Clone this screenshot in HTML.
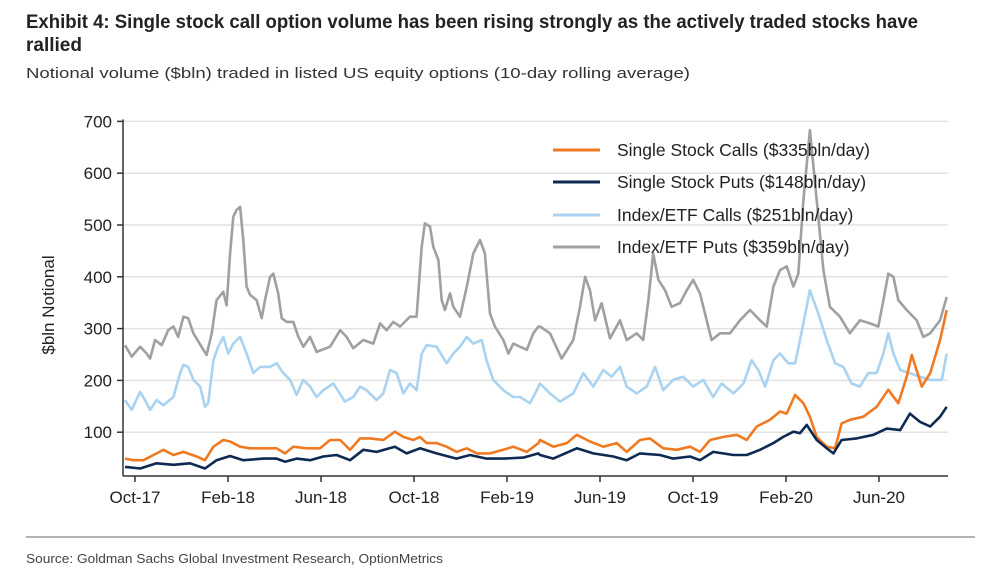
<!DOCTYPE html>
<html><head><meta charset="utf-8">
<style>
html,body{margin:0;padding:0;background:#fff;}
svg{display:block;}
text{font-family:"Liberation Sans",Arial,sans-serif;}
.n{font-family:"Liberation Sans Narrow","Liberation Sans",sans-serif;}
</style></head>
<body>
<svg id="chart" width="1000" height="585" viewBox="0 0 1000 585" xmlns="http://www.w3.org/2000/svg">
<text class="n" x="26" y="28" font-size="19" font-weight="bold" fill="#222" textLength="892" lengthAdjust="spacingAndGlyphs">Exhibit 4: Single stock call option volume has been rising strongly as the actively traded stocks have</text>
<text class="n" x="26" y="51" font-size="19" font-weight="bold" fill="#222" textLength="56" lengthAdjust="spacingAndGlyphs">rallied</text>
<text class="n" x="26" y="78" font-size="15" fill="#333" textLength="664" lengthAdjust="spacingAndGlyphs">Notional volume ($bln) traded in listed US equity options (10-day rolling average)</text>
<g id="grid"></g>
<g id="yticks"></g>
<g id="xticks"></g>
<g id="series"></g>
<text transform="translate(54,305) rotate(-90)" text-anchor="middle" font-size="17" fill="#222">$bln Notional</text>
<g id="legend"></g>
<line x1="26" y1="537" x2="975" y2="537" stroke="#999" stroke-width="1.5"/>
<text class="n" x="26" y="563" font-size="13" fill="#444" textLength="417" lengthAdjust="spacingAndGlyphs">Source: Goldman Sachs Global Investment Research, OptionMetrics</text>
</svg>
<script>
// months since 1-Oct-2017
const yTicks=[100,200,300,400,500,600,700];
const xTickLabels=["Oct-17","Feb-18","Jun-18","Oct-18","Feb-19","Jun-19","Oct-19","Feb-20","Jun-20"];
const xTickMonths=[0,4,8,12,16,20,24,28,32];
const legendLabels=["Single Stock Calls ($335bln/day)","Single Stock Puts ($148bln/day)","Index/ETF Calls ($251bln/day)","Index/ETF Puts ($359bln/day)"];
const putsIdxT=[-0.43,-0.14,0.22,0.5,0.65,0.86,1.15,1.43,1.65,1.86,2.08,2.29,2.51,2.94,3.08,3.3,3.51,3.8,3.94,4.09,4.23,4.37,4.52,4.66,4.8,4.95,5.23,5.45,5.59,5.81,5.95,6.16,6.31,6.52,6.81,7.03,7.24,7.53,7.81,8.39,8.82,9.1,9.39,9.82,10.25,10.54,10.82,11.11,11.4,11.83,12.11,12.33,12.47,12.69,12.83,13.05,13.19,13.33,13.55,13.69,13.98,14.27,14.55,14.84,15.05,15.27,15.48,15.84,16.06,16.27,16.56,16.85,17.13,17.35,17.42,17.85,18.35,18.85,19.14,19.36,19.57,19.79,20.07,20.43,20.86,21.15,21.58,21.86,22.08,22.29,22.51,22.8,23.08,23.44,23.73,24.01,24.3,24.59,24.8,25.16,25.59,26.02,26.45,26.88,27.17,27.46,27.74,28.03,28.32,28.53,28.75,29.03,29.32,29.61,29.89,30.32,30.75,31.18,31.61,31.97,32.19,32.4,32.62,32.83,33.19,33.62,33.91,34.2,34.63,34.91];
const putsIdxV=[268,246,265,252,242,278,268,297,304,284,323,320,291,259,249,291,355,371,345,445,516,529,535,471,381,365,355,320,355,400,406,368,320,313,313,284,265,284,255,265,297,284,262,278,271,310,297,313,304,323,323,458,503,497,458,432,355,336,368,342,323,381,445,471,445,329,304,278,252,271,265,259,291,304,304,291,242,278,342,400,374,316,349,281,316,278,291,278,355,445,394,374,342,349,374,394,368,316,278,291,291,316,336,316,304,381,413,420,381,406,548,683,548,413,342,323,291,316,310,304,355,406,400,355,336,316,284,291,316,361];
const callsIdxT=[-0.43,-0.14,0.22,0.43,0.65,0.93,1.22,1.65,1.94,2.08,2.29,2.51,2.8,3.01,3.15,3.37,3.58,3.8,4.01,4.23,4.52,4.8,5.09,5.38,5.81,6.09,6.38,6.67,6.95,7.24,7.53,7.81,8.1,8.53,9.03,9.39,9.68,9.96,10.39,10.68,10.97,11.25,11.54,11.83,12.11,12.33,12.54,12.97,13.4,13.69,13.98,14.27,14.55,14.91,15.12,15.41,15.84,16.27,16.56,16.99,17.28,17.42,17.85,18.28,18.85,19.28,19.71,20.14,20.5,20.86,21.15,21.58,22.01,22.37,22.72,23.15,23.58,24.01,24.44,24.87,25.23,25.74,26.17,26.52,26.81,27.1,27.46,27.74,28.1,28.39,28.6,29.03,29.39,29.75,30.11,30.47,30.82,31.18,31.54,31.9,32.19,32.4,32.62,32.91,33.33,33.76,34.2,34.7,34.91];
const callsIdxV=[162,143,178,162,143,162,152,168,214,230,226,201,188,149,156,239,265,284,252,271,284,252,214,226,226,233,214,201,172,201,188,168,181,194,159,168,188,181,162,175,220,214,175,194,181,252,268,265,233,252,265,284,271,278,239,201,181,168,168,156,181,194,175,159,175,214,188,220,207,226,188,175,188,226,181,201,207,188,201,168,194,175,194,239,220,188,239,252,233,233,278,374,329,278,233,226,194,188,214,214,252,291,252,220,214,207,201,201,252];
const callsSSt=[-0.43,-0.07,0.36,0.93,1.22,1.65,2.08,2.65,3.01,3.37,3.8,4.09,4.52,4.95,5.52,6.09,6.45,6.81,7.38,7.96,8.39,8.82,9.25,9.68,10.11,10.68,11.18,11.54,11.97,12.26,12.54,12.97,13.4,13.83,14.27,14.7,15.27,15.84,16.27,16.85,17.35,17.42,17.99,18.57,19.0,19.57,20.14,20.72,21.15,21.72,22.15,22.72,23.3,23.87,24.3,24.73,25.31,25.88,26.31,26.74,27.31,27.74,28.03,28.39,28.75,29.03,29.32,29.75,30.11,30.39,30.75,31.33,31.9,32.4,32.83,33.19,33.41,33.84,34.2,34.63,34.91];
const callsSSv=[49,46,46,59,66,56,62,53,46,72,85,82,72,69,69,69,59,72,69,69,85,85,66,88,88,85,101,91,85,91,79,79,72,62,69,59,59,66,72,62,79,85,72,79,95,82,72,79,62,85,88,69,66,72,62,85,91,95,85,111,124,140,136,172,156,130,91,72,69,117,124,130,149,182,156,207,249,188,214,278,336];
const putsSSt=[-0.43,0.22,0.93,1.65,2.37,3.01,3.51,4.09,4.66,5.52,6.09,6.45,6.95,7.53,8.1,8.67,9.25,9.82,10.39,11.18,11.68,12.26,12.97,13.83,14.41,15.12,15.84,16.7,17.35,17.42,17.99,19.0,19.71,20.57,21.15,21.72,22.58,23.15,23.87,24.3,24.87,25.74,26.31,26.88,27.46,27.88,28.32,28.6,28.89,29.32,29.75,30.04,30.39,31.04,31.76,32.33,32.91,33.33,33.76,34.2,34.63,34.91];
const putsSSv=[33,30,40,37,40,30,46,54,46,49,49,43,49,46,53,56,46,66,62,72,59,69,59,49,56,49,49,51,59,56,49,69,59,53,46,59,56,49,53,46,62,56,56,66,79,91,101,98,114,85,69,59,85,88,95,107,104,136,120,111,130,149];

const NS="http://www.w3.org/2000/svg";
const X0=123,X1=948,YB=476;
function xs(m){return 135+m*23.25;}
function ys(v){return 484-v*0.518;}
function mk(tag,attrs,parent){const e=document.createElementNS(NS,tag);for(const k in attrs)e.setAttribute(k,attrs[k]);parent.appendChild(e);return e;}
const grid=document.getElementById('grid'),yt=document.getElementById('yticks'),xt=document.getElementById('xticks'),ser=document.getElementById('series'),leg=document.getElementById('legend');
yTicks.forEach(v=>{
  const g=mk('line',{x1:X0,x2:X1,y1:ys(v),y2:ys(v),stroke:'#e2e2e2','stroke-width':1.5},grid);
  
  
  const t=mk('line',{x1:X0-6,x2:X0,y1:ys(v),y2:ys(v),stroke:'#333','stroke-width':1.5},yt);
  
  
  const l=mk('text',{x:X0-11,y:ys(v)+6,'text-anchor':'end','font-size':17,fill:'#222'},yt);
  l.textContent=v;
  
  
});
const ya=mk('line',{x1:X0,x2:X0,y1:ys(700)-2,y2:YB,stroke:'#333','stroke-width':1.5},yt);


const xa=mk('line',{x1:X0,x2:X1,y1:YB,y2:YB,stroke:'#333','stroke-width':1.5},xt);


xTickMonths.forEach((m,i)=>{
  const t=mk('line',{x1:xs(m),x2:xs(m),y1:YB,y2:YB+6,stroke:'#333','stroke-width':1.5},xt);
  
  
  const l=mk('text',{x:xs(m),y:YB+27,'text-anchor':'middle','font-size':17,fill:'#222'},xt);
  l.textContent=xTickLabels[i];
  
  
});
const colors=['#f07a22','#0e2a52','#a9d3f0','#a0a0a0'];
const seriesList=[[putsIdxT,putsIdxV,3,'index-etf-puts-line'],[callsIdxT,callsIdxV,2,'index-etf-calls-line'],[callsSSt,callsSSv,0,'single-stock-calls-line'],[putsSSt,putsSSv,1,'single-stock-puts-line']];
seriesList.forEach(s=>{
  const d=s[0].map((m,i)=>(i?'L':'M')+xs(m).toFixed(1)+','+ys(s[1][i]).toFixed(1)).join(' ');
  const p=mk('path',{d:d,fill:'none',stroke:colors[s[2]],'stroke-width':2.6,'stroke-linejoin':'round'},ser);
  
  
});
const legY=[150,182,215,247];
legendLabels.forEach((lab,i)=>{
  const l=mk('line',{x1:553,x2:600,y1:legY[i],y2:legY[i],stroke:colors[i],'stroke-width':3},leg);
  
  
  const t=mk('text',{x:617,y:legY[i]+6,'font-size':17.5,fill:'#222'},leg);
  t.textContent=lab;
  
  
});
</script>
</body></html>
